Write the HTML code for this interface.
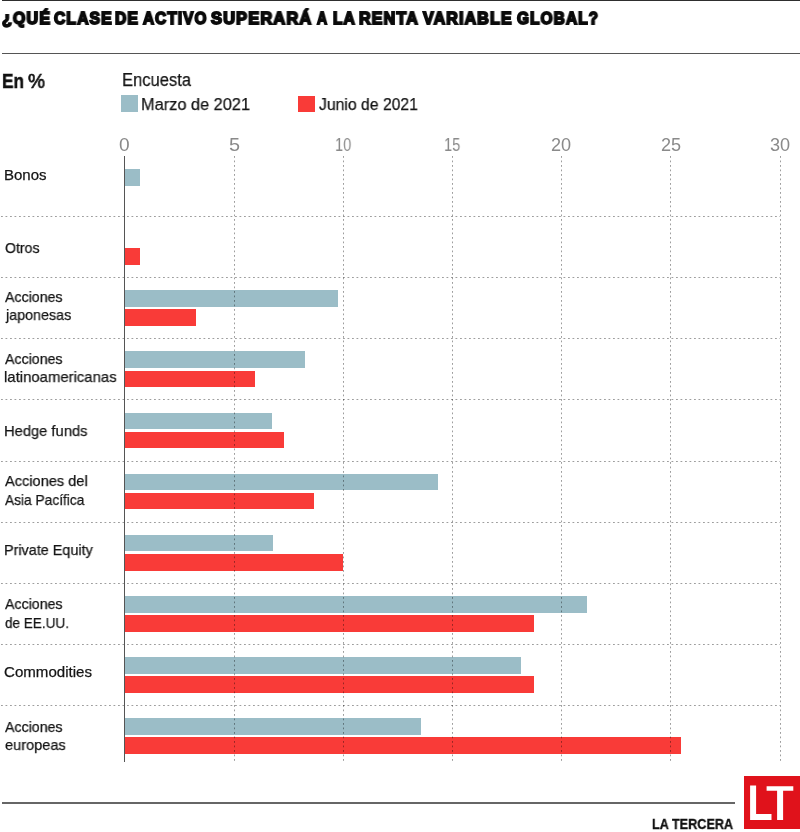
<!DOCTYPE html>
<html><head><meta charset="utf-8"><style>
html,body{margin:0;padding:0;background:#fff;}
body{width:800px;height:832px;position:relative;overflow:hidden;font-family:"Liberation Sans",sans-serif;color:#151515;}
.a{position:absolute;white-space:nowrap;line-height:1;transform-origin:0 0;}
.t{will-change:transform;}
.hl{position:absolute;height:1px;background-image:linear-gradient(to right,rgba(0,0,0,0.38) 0,rgba(0,0,0,0.38) 2.2px,transparent 2.2px);background-size:4.5px 1px;}
.vl{position:absolute;width:1px;background-image:linear-gradient(to bottom,rgba(0,0,0,0.38) 0,rgba(0,0,0,0.38) 2px,transparent 2px);background-size:1px 4.5px;}
.b{position:absolute;background:#9bbdc7;}
.r{position:absolute;background:#f93b38;}
</style></head><body>

<div class="a" style="left:1.5px;top:0;width:799px;height:1px;background:#2e2e2e"></div>
<div class="a" style="left:1.5px;top:52.6px;width:799px;height:1.6px;background:#555"></div>
<div class="a" style="left:121.25px;top:95.3px;width:17.1px;height:16.8px;background:#9bbdc7"></div>
<div class="a" style="left:298.1px;top:95.5px;width:16.9px;height:16.4px;background:#f93b38"></div>
<div class="b" style="left:124.80px;top:169.05px;width:14.90px;height:16.8px"></div>
<div class="r" style="left:124.80px;top:248.38px;width:14.90px;height:16.8px"></div>
<div class="b" style="left:124.80px;top:290.36px;width:213.10px;height:16.8px"></div>
<div class="r" style="left:124.80px;top:309.46px;width:71.10px;height:16.8px"></div>
<div class="b" style="left:124.80px;top:351.44px;width:180.60px;height:16.8px"></div>
<div class="r" style="left:124.80px;top:370.54px;width:130.20px;height:16.8px"></div>
<div class="b" style="left:124.80px;top:412.52px;width:147.10px;height:16.8px"></div>
<div class="r" style="left:124.80px;top:431.62px;width:159.30px;height:16.8px"></div>
<div class="b" style="left:124.80px;top:473.60px;width:313.00px;height:16.8px"></div>
<div class="r" style="left:124.80px;top:492.70px;width:188.95px;height:16.8px"></div>
<div class="b" style="left:124.80px;top:534.68px;width:147.80px;height:16.8px"></div>
<div class="r" style="left:124.80px;top:553.78px;width:218.30px;height:16.8px"></div>
<div class="b" style="left:124.80px;top:595.76px;width:462.30px;height:16.8px"></div>
<div class="r" style="left:124.80px;top:614.86px;width:409.20px;height:16.8px"></div>
<div class="b" style="left:124.80px;top:656.84px;width:396.10px;height:16.8px"></div>
<div class="r" style="left:124.80px;top:675.94px;width:409.30px;height:16.8px"></div>
<div class="b" style="left:124.80px;top:717.92px;width:296.10px;height:16.8px"></div>
<div class="r" style="left:124.80px;top:737.02px;width:556.10px;height:16.8px"></div>
<div class="hl" style="left:1px;top:216.18px;width:779px"></div>
<div class="hl" style="left:1px;top:277.26px;width:779px"></div>
<div class="hl" style="left:1px;top:338.34px;width:779px"></div>
<div class="hl" style="left:1px;top:399.42px;width:779px"></div>
<div class="hl" style="left:1px;top:460.50px;width:779px"></div>
<div class="hl" style="left:1px;top:521.58px;width:779px"></div>
<div class="hl" style="left:1px;top:582.66px;width:779px"></div>
<div class="hl" style="left:1px;top:643.74px;width:779px"></div>
<div class="hl" style="left:1px;top:704.82px;width:779px"></div>
<div class="vl" style="left:233.50px;top:156px;height:605px"></div>
<div class="vl" style="left:342.70px;top:156px;height:605px"></div>
<div class="vl" style="left:451.90px;top:156px;height:605px"></div>
<div class="vl" style="left:561.10px;top:156px;height:605px"></div>
<div class="vl" style="left:670.30px;top:156px;height:605px"></div>
<div class="vl" style="left:779.50px;top:156px;height:605px"></div>
<div class="a" style="left:124.15px;top:155.6px;width:1.3px;height:606.5px;background:#555"></div>
<div class="a" style="left:1.5px;top:802.2px;width:733px;height:1.7px;background:#666"></div>
<div class="a t" style="left:1.90px;top:10.13px;font-size:16.5px;color:#0b0b0b;font-weight:bold;-webkit-text-stroke:1.8px #0b0b0b;letter-spacing:1.2px;transform:scaleX(0.9700);">¿QUÉ</div>
<div class="a t" style="left:54.00px;top:10.13px;font-size:16.5px;color:#0b0b0b;font-weight:bold;-webkit-text-stroke:1.8px #0b0b0b;letter-spacing:1.2px;transform:scaleX(0.9475);">CLASE</div>
<div class="a t" style="left:115.25px;top:10.13px;font-size:16.5px;color:#0b0b0b;font-weight:bold;-webkit-text-stroke:1.8px #0b0b0b;letter-spacing:1.2px;transform:scaleX(0.9521);">DE</div>
<div class="a t" style="left:142.83px;top:10.13px;font-size:16.5px;color:#0b0b0b;font-weight:bold;-webkit-text-stroke:1.8px #0b0b0b;letter-spacing:1.2px;transform:scaleX(0.9286);">ACTIVO</div>
<div class="a t" style="left:211.24px;top:10.13px;font-size:16.5px;color:#0b0b0b;font-weight:bold;-webkit-text-stroke:1.8px #0b0b0b;letter-spacing:1.2px;transform:scaleX(0.9927);">SUPERARÁ</div>
<div class="a t" style="left:317.10px;top:10.13px;font-size:16.5px;color:#0b0b0b;font-weight:bold;-webkit-text-stroke:1.8px #0b0b0b;letter-spacing:1.2px;transform:scaleX(0.8464);">A</div>
<div class="a t" style="left:332.50px;top:10.13px;font-size:16.5px;color:#0b0b0b;font-weight:bold;-webkit-text-stroke:1.8px #0b0b0b;letter-spacing:1.2px;transform:scaleX(0.9375);">LA</div>
<div class="a t" style="left:359.40px;top:10.13px;font-size:16.5px;color:#0b0b0b;font-weight:bold;-webkit-text-stroke:1.8px #0b0b0b;letter-spacing:1.2px;transform:scaleX(0.9730);">RENTA</div>
<div class="a t" style="left:423.47px;top:10.13px;font-size:16.5px;color:#0b0b0b;font-weight:bold;-webkit-text-stroke:1.8px #0b0b0b;letter-spacing:1.2px;transform:scaleX(0.9677);">VARIABLE</div>
<div class="a t" style="left:516.90px;top:10.13px;font-size:16.5px;color:#0b0b0b;font-weight:bold;-webkit-text-stroke:1.8px #0b0b0b;letter-spacing:1.2px;transform:scaleX(0.9333);">GLOBAL?</div>
<div class="a t" style="left:1.87px;top:71.57px;font-size:19.4px;color:#111;font-weight:bold;-webkit-text-stroke:0.5px #111;transform:scaleX(0.8848);">En</div>
<div class="a t" style="left:27.75px;top:71.57px;font-size:19.4px;color:#111;-webkit-text-stroke:0.7px #111;transform:scaleX(0.9794);">%</div>
<div class="a t" style="left:121.58px;top:70.96px;font-size:18.0px;color:#151515;-webkit-text-stroke:0.25px #151515;transform:scaleX(0.9203);">Encuesta</div>
<div class="a t" style="left:140.65px;top:95.65px;font-size:17.3px;color:#151515;-webkit-text-stroke:0.25px #151515;transform:scaleX(0.9456);">Marzo de 2021</div>
<div class="a t" style="left:318.50px;top:95.65px;font-size:17.3px;color:#151515;-webkit-text-stroke:0.25px #151515;transform:scaleX(0.9111);">Junio de 2021</div>
<div class="a t" style="left:4.01px;top:166.55px;font-size:15.0px;color:#151515;-webkit-text-stroke:0.25px #151515;transform:scaleX(0.9902);">Bonos</div>
<div class="a t" style="left:5.00px;top:240.30px;font-size:15.0px;color:#151515;-webkit-text-stroke:0.25px #151515;transform:scaleX(0.9405);">Otros</div>
<div class="a t" style="left:5.00px;top:288.80px;font-size:15.0px;color:#151515;-webkit-text-stroke:0.25px #151515;transform:scaleX(0.9459);">Acciones</div>
<div class="a t" style="left:5.95px;top:307.30px;font-size:15.0px;color:#151515;-webkit-text-stroke:0.25px #151515;transform:scaleX(0.9536);">japonesas</div>
<div class="a t" style="left:5.00px;top:350.75px;font-size:15.0px;color:#151515;-webkit-text-stroke:0.25px #151515;transform:scaleX(0.9459);">Acciones</div>
<div class="a t" style="left:4.01px;top:369.20px;font-size:15.0px;color:#151515;-webkit-text-stroke:0.25px #151515;transform:scaleX(0.9933);">latinoamericanas</div>
<div class="a t" style="left:4.02px;top:422.75px;font-size:15.0px;color:#151515;-webkit-text-stroke:0.25px #151515;transform:scaleX(0.9810);">Hedge funds</div>
<div class="a t" style="left:5.00px;top:473.00px;font-size:15.0px;color:#151515;-webkit-text-stroke:0.25px #151515;transform:scaleX(0.9726);">Acciones del</div>
<div class="a t" style="left:5.00px;top:491.50px;font-size:15.0px;color:#151515;-webkit-text-stroke:0.25px #151515;transform:scaleX(0.9161);">Asia Pacífica</div>
<div class="a t" style="left:4.04px;top:542.00px;font-size:15.0px;color:#151515;-webkit-text-stroke:0.25px #151515;transform:scaleX(0.9598);">Private Equity</div>
<div class="a t" style="left:5.00px;top:596.30px;font-size:15.0px;color:#151515;-webkit-text-stroke:0.25px #151515;transform:scaleX(0.9459);">Acciones</div>
<div class="a t" style="left:5.00px;top:614.80px;font-size:15.0px;color:#151515;-webkit-text-stroke:0.25px #151515;transform:scaleX(0.9029);">de EE.UU.</div>
<div class="a t" style="left:3.99px;top:663.80px;font-size:15.0px;color:#151515;-webkit-text-stroke:0.25px #151515;transform:scaleX(1.0058);">Commodities</div>
<div class="a t" style="left:5.00px;top:718.55px;font-size:15.0px;color:#151515;-webkit-text-stroke:0.25px #151515;transform:scaleX(0.9459);">Acciones</div>
<div class="a t" style="left:5.00px;top:736.80px;font-size:15.0px;color:#151515;-webkit-text-stroke:0.25px #151515;transform:scaleX(0.9718);">europeas</div>
<div class="a t" style="left:652.10px;top:817.35px;font-size:14px;color:#111;font-weight:bold;-webkit-text-stroke:0.3px #111;transform:scaleX(0.9045);">LA TERCERA</div>
<div class="a t" style="left:118.99px;top:136.18px;font-size:18.1px;color:#8a8a8a;transform:scaleX(1.0556);">0</div>
<div class="a t" style="left:228.50px;top:136.18px;font-size:18.1px;color:#8a8a8a;transform:scaleX(1.1000);">5</div>
<div class="a t" style="left:334.69px;top:136.18px;font-size:18.1px;color:#8a8a8a;transform:scaleX(0.8105);">10</div>
<div class="a t" style="left:444.29px;top:136.18px;font-size:18.1px;color:#8a8a8a;transform:scaleX(0.8111);">15</div>
<div class="a t" style="left:551.10px;top:136.18px;font-size:18.1px;color:#8a8a8a;">20</div>
<div class="a t" style="left:660.80px;top:136.18px;font-size:18.1px;color:#8a8a8a;">25</div>
<div class="a t" style="left:769.50px;top:136.18px;font-size:18.1px;color:#8a8a8a;">30</div>
<div class="a" style="left:743.8px;top:776.1px;width:56.2px;height:52.9px;background:#e0121b"></div>
<svg class="a" style="left:744px;top:776px" width="56" height="53" viewBox="0 0 56 53">
<path d="M6.1 9.5h6v28.5h15.4v6H6.1z" fill="#fff"/>
<path d="M22.6 10.25h26.7v4.5h-10.2v29.25h-6V14.75h-10.5z" fill="#fff"/>
</svg>
</body></html>
